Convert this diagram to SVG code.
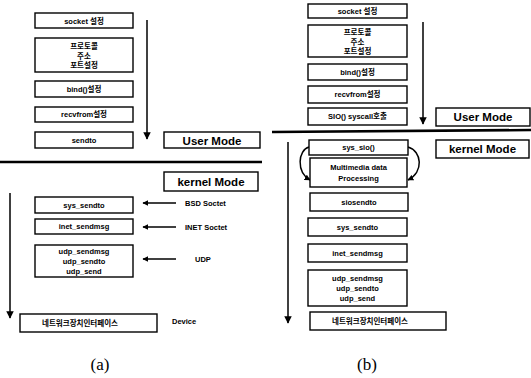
<svg xmlns="http://www.w3.org/2000/svg" width="531" height="378" viewBox="0 0 531 378">
<style>
.b{fill:#fff;stroke:#000;stroke-width:1.4}
.t{font-family:"Liberation Sans","Noto Sans CJK KR",sans-serif;font-size:7.5px;font-weight:bold;text-anchor:middle;fill:#000}
.m{font-family:"Liberation Sans","Noto Sans CJK KR",sans-serif;font-size:11.5px;font-weight:bold;text-anchor:middle;fill:#000}
.l{font-family:"Liberation Sans","Noto Sans CJK KR",sans-serif;font-size:7.5px;font-weight:bold;fill:#000}
.c{font-family:"Liberation Serif",serif;font-size:17px;text-anchor:middle;fill:#000}
.ln{stroke:#000;stroke-width:1.5;fill:none}
.sep{stroke:#000;stroke-width:2.6;fill:none}
</style>
<defs>
<marker id="ah" viewBox="0 0 10 10" refX="9" refY="5" markerWidth="5" markerHeight="5" orient="auto"><path d="M0,0L10,5L0,10z" fill="#000"/></marker>
<marker id="as" viewBox="0 0 10 10" refX="9" refY="5" markerWidth="4" markerHeight="4" orient="auto"><path d="M0,0L10,5L0,10z" fill="#000"/></marker>
</defs>
<g id="connectors">
<line class="ln" x1="147" y1="20" x2="147" y2="139" marker-end="url(#ah)"/>
<line class="ln" x1="10" y1="193" x2="10" y2="318" marker-end="url(#ah)"/>
<line class="ln" x1="176" y1="203" x2="143" y2="203" marker-end="url(#as)"/>
<line class="ln" x1="176" y1="227" x2="143" y2="227" marker-end="url(#as)"/>
<line class="ln" x1="176" y1="259" x2="143" y2="259" marker-end="url(#as)"/>
<line class="sep" x1="0" y1="162" x2="262" y2="162"/>
<line class="ln" x1="423" y1="22" x2="423" y2="124" marker-end="url(#ah)"/>
<line class="ln" x1="288" y1="142" x2="288" y2="323" marker-end="url(#ah)"/>
<path class="sep" d="M272 132 L531 130"/>
<path class="ln" d="M309 147 C298 150 296 172 310 180" marker-end="url(#as)"/>
<path class="ln" d="M408 147 C422 151 424 172 408 180" marker-end="url(#as)"/>
</g>
<g id="a-socket"><rect class="b" x="35" y="13" width="98" height="15"/><text class="t" x="84" y="23.5">socket 설정</text></g>
<g id="a-proto"><rect class="b" x="35" y="38" width="98" height="34"/><text class="t" x="84" y="49">프로토콜</text><text class="t" x="84" y="58.5">주소</text><text class="t" x="84" y="68">포트설정</text></g>
<g id="a-bind"><rect class="b" x="35" y="81" width="98" height="16"/><text class="t" x="84" y="91.5">bind()설정</text></g>
<g id="a-recv"><rect class="b" x="35" y="107" width="98" height="15"/><text class="t" x="84" y="117">recvfrom설정</text></g>
<g id="a-sendto"><rect class="b" x="35" y="132" width="98" height="16"/><text class="t" x="84" y="142.5">sendto</text></g>
<g id="a-user"><rect class="b" x="164" y="132" width="96" height="16"/><text class="m" x="212" y="144.5">User Mode</text></g>
<g id="a-kernel"><rect class="b" x="164" y="172" width="94" height="19"/><text class="m" x="211" y="186">kernel Mode</text></g>
<g id="a-syssendto"><rect class="b" x="35" y="197" width="98" height="16"/><text class="t" x="84" y="207.5">sys_sendto</text></g>
<g id="a-inet"><rect class="b" x="35" y="219" width="98" height="15"/><text class="t" x="84" y="229">inet_sendmsg</text></g>
<g id="a-udp"><rect class="b" x="35" y="245" width="98" height="32"/><text class="t" x="84" y="254">udp_sendmsg</text><text class="t" x="84" y="264">udp_sendto</text><text class="t" x="84" y="274">udp_send</text></g>
<g id="a-dev"><rect class="b" x="20" y="314" width="137" height="18"/><text class="t" x="80" y="325.5">네트워크장치인터페이스</text></g>
<g id="a-labels"><text class="l" x="185" y="206">BSD Soctet</text><text class="l" x="185" y="230">INET Soctet</text><text class="l" x="195" y="262">UDP</text><text class="l" x="172" y="324">Device</text></g>
<g id="b-socket"><rect class="b" x="308" y="4" width="99" height="14"/><text class="t" x="357.5" y="14">socket 설정</text></g>
<g id="b-proto"><rect class="b" x="308" y="25" width="99" height="32"/><text class="t" x="357.5" y="35">프로토콜</text><text class="t" x="357.5" y="44.5">주소</text><text class="t" x="357.5" y="54">포트설정</text></g>
<g id="b-bind"><rect class="b" x="308" y="64" width="99" height="16"/><text class="t" x="357.5" y="74.5">bind()설정</text></g>
<g id="b-recv"><rect class="b" x="308" y="86" width="99" height="17"/><text class="t" x="357.5" y="97">recvfrom설정</text></g>
<g id="b-sio"><rect class="b" x="308" y="108" width="99" height="17"/><text class="t" x="357.5" y="119">SIO() syscall호출</text></g>
<g id="b-user"><rect class="b" x="436" y="108" width="94" height="18"/><text class="m" x="483" y="121">User Mode</text></g>
<g id="b-kernel"><rect class="b" x="436" y="140" width="93" height="18"/><text class="m" x="482.5" y="153">kernel Mode</text></g>
<g id="b-syssio"><rect class="b" x="309" y="140" width="99" height="15"/><text class="t" x="358.5" y="150">sys_sio()</text></g>
<g id="b-mm"><rect class="b" x="310" y="158" width="97" height="29"/><text class="t" x="358.5" y="169.5">Multimedia data</text><text class="t" x="358.5" y="181">Processing</text></g>
<g id="b-siosendto"><rect class="b" x="310" y="193" width="98" height="18"/><text class="t" x="359" y="204.5">siosendto</text></g>
<g id="b-syssendto"><rect class="b" x="308" y="218" width="99" height="18"/><text class="t" x="357.5" y="229.5">sys_sendto</text></g>
<g id="b-inet"><rect class="b" x="308" y="244" width="99" height="18"/><text class="t" x="357.5" y="255.5">inet_sendmsg</text></g>
<g id="b-udp"><rect class="b" x="308" y="270" width="99" height="36"/><text class="t" x="357.5" y="281">udp_sendmsg</text><text class="t" x="357.5" y="291">udp_sendto</text><text class="t" x="357.5" y="301">udp_send</text></g>
<g id="b-dev"><rect class="b" x="310" y="312" width="136" height="18"/><text class="t" x="370" y="323.5">네트워크장치인터페이스</text></g>
<g id="captions"><text class="c" x="100" y="370">(a)</text><text class="c" x="367" y="370">(b)</text></g>
</svg>
